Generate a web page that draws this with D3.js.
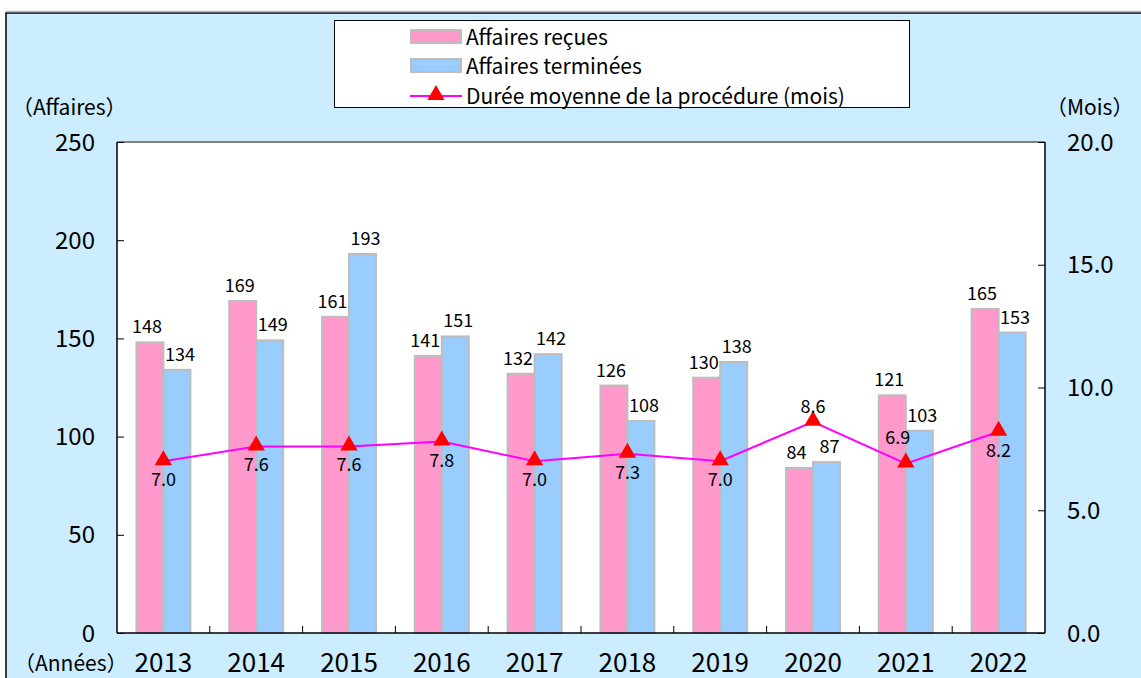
<!DOCTYPE html>
<html>
<head>
<meta charset="utf-8">
<script src="https://cdn.jsdelivr.net/npm/d3@7"></script>
<style>
  body { margin: 0; background: #fff; }
  svg text { font-family: "Noto Sans CJK JP", "Noto Sans", sans-serif; fill: #000; }
</style>
</head>
<body>
<div id="chart"></div>
<script>
// données
var annees = ["2013", "2014", "2015", "2016", "2017", "2018", "2019", "2020", "2021", "2022"];
var recues = [148, 169, 161, 141, 132, 126, 130, 84, 121, 165];
var terminees = [134, 149, 193, 151, 142, 108, 138, 87, 103, 153];
var duree = [7.0, 7.6, 7.6, 7.8, 7.0, 7.3, 7.0, 8.6, 6.9, 8.2];
var dureeAuDessus = [false, false, false, false, false, false, false, true, true, false];
var ticksGauche = [0, 50, 100, 150, 200, 250];
var ticksDroite = [0, 5, 10, 15, 20];

var W = 1141, H = 678;
var svg = d3.select("#chart").append("svg")
    .attr("width", W)
    .attr("height", H);

// fond bleu avec cadre
svg.append("rect")
    .attr("x", 6).attr("y", 13)
    .attr("width", W + 10).attr("height", H + 10)
    .attr("fill", "#CCECFF")
    .attr("stroke", "#000").attr("stroke-width", 1.5);
svg.append("line")
    .attr("x1", 6).attr("x2", W).attr("y1", 11.5).attr("y2", 11.5)
    .attr("stroke", "#bbb").attr("stroke-width", 1.5);

var gauche = 117, droite = 1045, haut = 142, bas = 633;

var x = d3.scaleBand().domain(annees).range([gauche, droite]).padding(0);
var y = d3.scaleLinear().domain([0, 250]).range([bas, haut]);
var y2 = d3.scaleLinear().domain([0, 20]).range([bas, haut]);

// zone du graphique
svg.append("rect")
    .attr("x", gauche).attr("y", haut)
    .attr("width", droite - gauche).attr("height", bas - haut)
    .attr("fill", "#fff");

var bw = 27;

// barres
svg.append("g").selectAll("rect")
    .data(recues)
    .enter().append("rect")
    .attr("x", (d, i) => x(annees[i]) + x.bandwidth() / 2 - bw)
    .attr("y", d => y(d))
    .attr("width", bw)
    .attr("height", d => bas - y(d))
    .attr("fill", "#FF99CC")
    .attr("stroke", "#BDBDBD").attr("stroke-width", 2);

svg.append("g").selectAll("rect")
    .data(terminees)
    .enter().append("rect")
    .attr("x", (d, i) => x(annees[i]) + x.bandwidth() / 2)
    .attr("y", d => y(d))
    .attr("width", bw)
    .attr("height", d => bas - y(d))
    .attr("fill", "#99CCFF")
    .attr("stroke", "#BDBDBD").attr("stroke-width", 2);

// étiquettes des barres
svg.append("g").selectAll("text")
    .data(recues)
    .enter().append("text")
    .attr("x", (d, i) => x(annees[i]) + x.bandwidth() / 2 - bw / 2 - 3)
    .attr("y", d => y(d) - 9)
    .attr("text-anchor", "middle")
    .style("font-size", "18px")
    .text(d => d);

svg.append("g").selectAll("text")
    .data(terminees)
    .enter().append("text")
    .attr("x", (d, i) => x(annees[i]) + x.bandwidth() / 2 + bw / 2 + 3)
    .attr("y", d => y(d) - 9)
    .attr("text-anchor", "middle")
    .style("font-size", "18px")
    .text(d => d);

// axes (traits)
svg.append("line")
    .attr("x1", gauche).attr("x2", droite).attr("y1", haut).attr("y2", haut)
    .attr("stroke", "#808080").attr("stroke-width", 2);
svg.append("line")
    .attr("x1", gauche).attr("x2", gauche).attr("y1", haut).attr("y2", bas)
    .attr("stroke", "#000").attr("stroke-width", 1.5);
svg.append("line")
    .attr("x1", droite).attr("x2", droite).attr("y1", haut).attr("y2", bas)
    .attr("stroke", "#000").attr("stroke-width", 1.5);
svg.append("line")
    .attr("x1", gauche).attr("x2", droite).attr("y1", bas).attr("y2", bas)
    .attr("stroke", "#000").attr("stroke-width", 1.5);

// axe gauche
var axeG = svg.append("g")
    .attr("transform", "translate(" + gauche + ",0)")
    .call(d3.axisRight(y).tickValues(ticksGauche).tickSize(7).tickFormat(""));
axeG.select(".domain").remove();
axeG.selectAll("line").attr("stroke", "#000");
svg.append("g").selectAll("text")
    .data(ticksGauche)
    .enter().append("text")
    .attr("x", 95)
    .attr("y", d => y(d))
    .attr("dy", "0.36em")
    .attr("text-anchor", "end")
    .style("font-size", "24px")
    .text(d => d);

// axe droit
var axeD = svg.append("g")
    .attr("transform", "translate(" + droite + ",0)")
    .call(d3.axisLeft(y2).tickValues(ticksDroite).tickSize(7).tickFormat(""));
axeD.select(".domain").remove();
axeD.selectAll("line").attr("stroke", "#000");
svg.append("g").selectAll("text")
    .data(ticksDroite)
    .enter().append("text")
    .attr("x", 1067)
    .attr("y", d => y2(d))
    .attr("dy", "0.36em")
    .attr("text-anchor", "start")
    .style("font-size", "24px")
    .text(d => d3.format(".1f")(d));

// graduations du bas entre les années
svg.append("g").selectAll("line")
    .data(annees.slice(1))
    .enter().append("line")
    .attr("x1", d => x(d)).attr("x2", d => x(d))
    .attr("y1", bas).attr("y2", bas - 7)
    .attr("stroke", "#000");

// années
svg.append("g").selectAll("text")
    .data(annees)
    .enter().append("text")
    .attr("x", d => x(d) + x.bandwidth() / 2)
    .attr("y", 672)
    .attr("text-anchor", "middle")
    .style("font-size", "26px")
    .text(d => d);

svg.append("text").attr("x", 14).attr("y", 671)
    .style("font-size", "21px").text("（Années）");
svg.append("text").attr("x", 12).attr("y", 115)
    .style("font-size", "21px").text("（Affaires）");
svg.append("text").attr("x", 1046).attr("y", 115)
    .style("font-size", "21px").text("（Mois）");

// ligne durée moyenne
var ligne = d3.line()
    .x((d, i) => x(annees[i]) + x.bandwidth() / 2)
    .y(d => y2(d));

svg.append("path")
    .datum(duree)
    .attr("d", ligne)
    .attr("fill", "none")
    .attr("stroke", "#FF00FF")
    .attr("stroke-width", 2);

var triangle = d3.symbol().type(d3.symbolTriangle).size(130);
svg.append("g").selectAll("path")
    .data(duree)
    .enter().append("path")
    .attr("d", triangle)
    .attr("transform", (d, i) => "translate(" + (x(annees[i]) + x.bandwidth() / 2) + "," + (y2(d) - 1) + ")")
    .attr("fill", "#FF0000");

svg.append("g").selectAll("text")
    .data(duree)
    .enter().append("text")
    .attr("x", (d, i) => x(annees[i]) + x.bandwidth() / 2 - (i == 8 ? 8 : 0))
    .attr("y", (d, i) => dureeAuDessus[i] ? y2(d) - (i == 8 ? 20 : 9) : y2(d) + 25)
    .attr("text-anchor", "middle")
    .style("font-size", "18px")
    .text(d => d3.format(".1f")(d));

// légende
var leg = svg.append("g");
leg.append("rect")
    .attr("x", 334.5).attr("y", 20.5)
    .attr("width", 575).attr("height", 87)
    .attr("fill", "#fff")
    .attr("stroke", "#000").attr("stroke-width", 1);

var legendeNoms = ["Affaires reçues", "Affaires terminées", "Durée moyenne de la procédure (mois)"];
var legendeCouleurs = ["#FF99CC", "#99CCFF"];
var legY = [37, 66, 96];

legendeCouleurs.forEach(function (c, i) {
  leg.append("rect")
    .attr("x", 411).attr("y", legY[i] - 7)
    .attr("width", 50).attr("height", 13)
    .attr("fill", c)
    .attr("stroke", "#BDBDBD").attr("stroke-width", 2);
});
leg.append("line")
    .attr("x1", 410).attr("x2", 462)
    .attr("y1", legY[2]).attr("y2", legY[2])
    .attr("stroke", "#FF00FF").attr("stroke-width", 2);
leg.append("path")
    .attr("d", triangle)
    .attr("transform", "translate(436," + (legY[2] - 1) + ")")
    .attr("fill", "#FF0000");

leg.selectAll("text.l")
    .data(legendeNoms)
    .enter().append("text")
    .attr("class", "l")
    .attr("x", 466)
    .attr("y", (d, i) => legY[i])
    .attr("dy", "0.36em")
    .style("font-size", "21px")
    .text(d => d);
</script>
</body>
</html>
